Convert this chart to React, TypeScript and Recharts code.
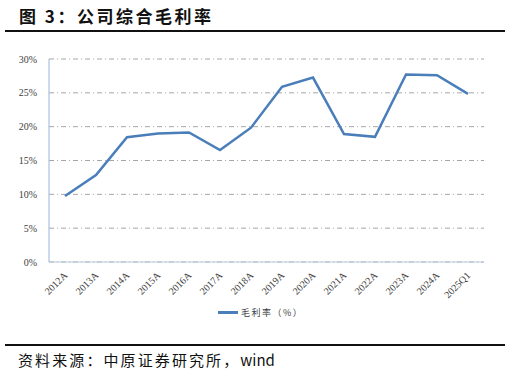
import { LineChart, Line, XAxis, YAxis, CartesianGrid } from "recharts";

const years = [
  "2012A", "2013A", "2014A", "2015A", "2016A", "2017A", "2018A",
  "2019A", "2020A", "2021A", "2022A", "2023A", "2024A", "2025Q1",
];
const grossMargin = [
  9.75, 12.85, 18.45, 19.0, 19.15, 16.55, 19.85,
  25.9, 27.25, 18.9, 18.5, 27.7, 27.6, 24.85,
];
const yTicks = [0, 5, 10, 15, 20, 25, 30];
const seriesName = "毛利率（%）";

const data = years.map((y, i) => ({ name: y, value: grossMargin[i] }));

const serif = "'Liberation Serif', 'Times New Roman', serif";
const cjk = "'Noto Sans CJK SC', 'Noto Sans', sans-serif";

function XTick(props: any) {
  const { x, y, payload } = props;
  return (
    <text
      x={x + 3}
      y={y + 6}
      textAnchor="end"
      fontSize={10}
      fontFamily={serif}
      fill="#404040"
      transform={`rotate(-45 ${x + 3} ${y + 6})`}
    >
      {payload.value}
    </text>
  );
}

export default function App() {
  return (
    <div
      style={{
        position: "absolute",
        left: 0,
        top: 0,
        width: 511,
        height: 378,
        background: "#fff",
        overflow: "hidden",
      }}
    >
      <div
        style={{
          position: "absolute",
          left: 19,
          top: 3,
          fontFamily: cjk,
          fontWeight: 700,
          fontSize: 17,
          color: "#111",
          letterSpacing: 2.5,
        }}
      >
        图 3：公司综合毛利率
      </div>
      <div style={{ position: "absolute", left: 5, top: 30, width: 500, height: 2, background: "#111" }} />

      <div style={{ position: "absolute", left: 0, top: 0 }}>
        <LineChart
          width={511}
          height={330}
          data={data}
          margin={{ top: 59, right: 27, bottom: 0, left: 9 }}
        >
          <CartesianGrid
            vertical={false}
            stroke="#a6a6a6"
            strokeDasharray="5 3 1 3"
          />
          <XAxis
            dataKey="name"
            interval={0}
            height={68}
            padding={{ left: 16, right: 16 }}
            tickLine={false}
            axisLine={{ stroke: "#b9c9de" }}
            tick={<XTick />}
          />
          <YAxis
            width={40}
            domain={[0, 30]}
            ticks={yTicks}
            tickFormatter={(v: number) => `${v}%`}
            tickLine={false}
            axisLine={{ stroke: "#9ab5d8" }}
            tick={{ fontSize: 10, fontFamily: serif, fill: "#404040" }}
            tickMargin={6}
          />
          <Line
            type="linear"
            dataKey="value"
            stroke="#4a7ebb"
            strokeWidth={2.5}
            dot={false}
            isAnimationActive={false}
          />
        </LineChart>
      </div>

      <div
        style={{
          position: "absolute",
          left: 218,
          top: 306,
          display: "flex",
          alignItems: "center",
          fontFamily: cjk,
          fontSize: 9,
          color: "#404040",
        }}
      >
        <span style={{ display: "inline-block", width: 20, height: 3, background: "#4a7ebb", marginRight: 3 }} />
        <span style={{ letterSpacing: 1.5 }}>{seriesName}</span>
      </div>

      <div style={{ position: "absolute", left: 5, top: 344, width: 500, height: 2, background: "#111" }} />
      <div
        style={{
          position: "absolute",
          left: 18,
          top: 349,
          fontFamily: cjk,
          fontSize: 15,
          color: "#111",
        }}
      >
        <span style={{ letterSpacing: 2.1 }}>资料来源：中原证券研究所，</span>
        <span>wind</span>
      </div>
    </div>
  );
}
